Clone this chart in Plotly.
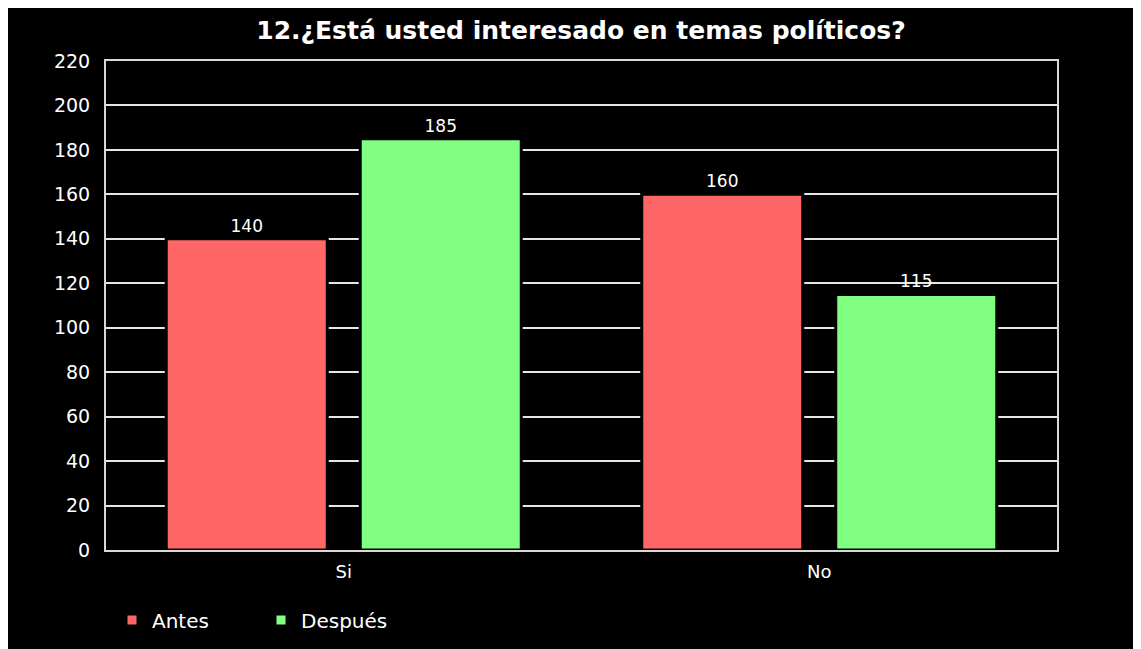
import plotly.graph_objects as go

categories = ["Si", "No"]
antes = [140, 160]
despues = [185, 115]
series_names = ["Antes", "Después"]
title_text = "12.¿Está usted interesado en temas políticos?"
y_ticks = list(range(0, 221, 20))

FONT = "DejaVu Sans"
OFF = 8  # page body margin
W, H = 1141, 649
L, T = 106 - OFF, 61 - OFF
PW, PH = 951, 489
R, B = W - L - PW, H - T - PH


def px_x(p):
    return (p - OFF - L) / PW


def px_y(p):
    return (T + PH - (p - OFF)) / PH


fig = go.Figure()
fig.add_trace(go.Bar(
    x=categories, y=antes, name=series_names[0],
    marker=dict(color="#FF6666", line=dict(color="#000000", width=3)),
    text=antes, textposition="outside", cliponaxis=False,
    textfont=dict(color="#ffffff", size=17, family=FONT),
))
fig.add_trace(go.Bar(
    x=categories, y=despues, name=series_names[1],
    marker=dict(color="#80FF80", line=dict(color="#000000", width=3)),
    text=despues, textposition="outside", cliponaxis=False,
    textfont=dict(color="#ffffff", size=17, family=FONT),
))

fig.update_layout(
    width=W, height=H,
    margin=dict(l=L, r=R, t=T, b=B, pad=0),
    paper_bgcolor="#000000",
    plot_bgcolor="#000000",
    font=dict(family=FONT, color="#ffffff"),
    title=dict(text=title_text, x=px_x(581), xanchor="center", xref="paper",
               y=1 - (30 - OFF) / H, yanchor="middle",
               font=dict(family=FONT, size=25, color="#ffffff", weight="bold")),
    barmode="group", bargap=0.184, bargroupgap=0.17,
    showlegend=True,
    legend=dict(orientation="h", x=px_x(112), xanchor="left",
                y=px_y(620), yanchor="middle",
                font=dict(family=FONT, size=20, color="#ffffff"),
                bgcolor="rgba(0,0,0,0)", entrywidth=104, entrywidthmode="pixels",
                traceorder="normal"),
    xaxis=dict(showline=True, linecolor="#d8d8d8", linewidth=2, mirror=True,
               showgrid=False, ticks="", tickfont=dict(size=18, family=FONT, color="#ffffff"),
               ticklabelstandoff=4),
    yaxis=dict(range=[0, 220], tickvals=y_ticks, showline=True, linecolor="#d8d8d8",
               linewidth=2, mirror=True, showgrid=True, gridcolor="#e6e6e6", gridwidth=2,
               zeroline=False, ticks="", ticklabelstandoff=10,
               tickfont=dict(size=19, family=FONT, color="#ffffff")),
)

fig.write_html("out.html")
